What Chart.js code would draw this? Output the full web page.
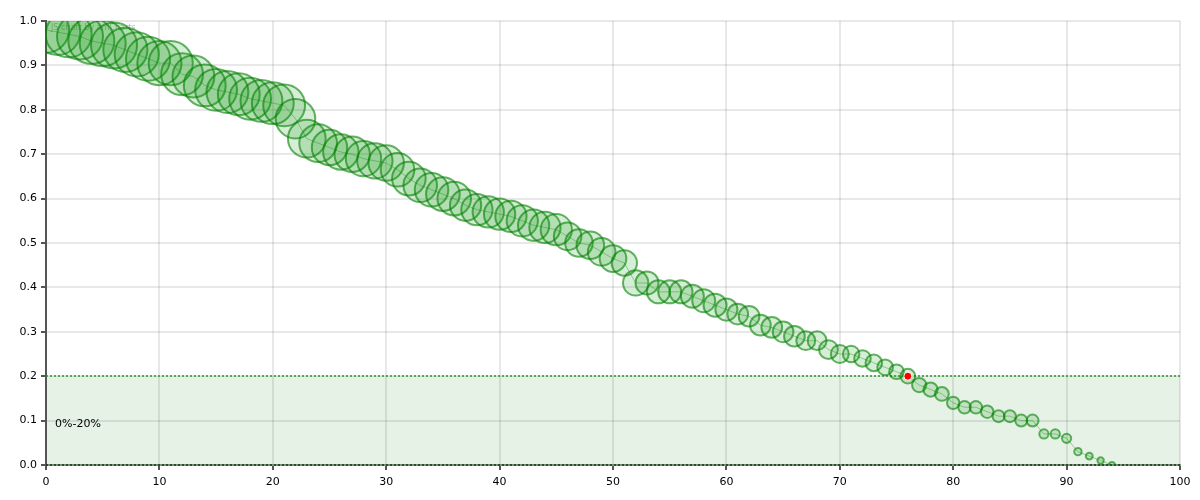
<!DOCTYPE html>
<html>
<head>
<meta charset="utf-8">
<script src="https://cdn.jsdelivr.net/npm/chart.js@4.4.1/dist/chart.umd.min.js"></script>
<style>
  html, body { margin: 0; padding: 0; background: #fff; }
  #wrap { width: 1200px; height: 500px; }
</style>
</head>
<body>
<div id="wrap"><canvas id="bubbleChart" width="1200" height="500"></canvas></div>
<script>
// data
const xValues = [0, 1, 2, 3, 4, 5, 6, 7, 8, 9, 10, 11, 12, 13, 14, 15, 16, 17, 18, 19,
    20, 21, 22, 23, 24, 25, 26, 27, 28, 29, 30, 31, 32, 33, 34, 35, 36, 37, 38, 39,
    40, 41, 42, 43, 44, 45, 46, 47, 48, 49, 50, 51, 52, 53, 54, 55, 56, 57, 58, 59,
    60, 61, 62, 63, 64, 65, 66, 67, 68, 69, 70, 71, 72, 73, 74, 75, 76, 77, 78, 79,
    80, 81, 82, 83, 84, 85, 86, 87, 88, 89, 90, 91, 92, 93, 94];

const yValues = [0.98, 0.975, 0.97, 0.965, 0.955, 0.95, 0.945, 0.935, 0.925, 0.915,
    0.905, 0.905, 0.88, 0.875, 0.855, 0.845, 0.84, 0.835, 0.825, 0.82,
    0.815, 0.81, 0.78, 0.735, 0.725, 0.715, 0.705, 0.70, 0.69, 0.685,
    0.68, 0.665, 0.645, 0.63, 0.62, 0.61, 0.60, 0.585, 0.575, 0.57,
    0.565, 0.56, 0.55, 0.54, 0.535, 0.53, 0.515, 0.50, 0.495, 0.48,
    0.465, 0.455, 0.41, 0.41, 0.39, 0.39, 0.39, 0.38, 0.37, 0.36,
    0.35, 0.34, 0.335, 0.315, 0.31, 0.30, 0.29, 0.28, 0.28, 0.26,
    0.25, 0.25, 0.24, 0.23, 0.22, 0.21, 0.20, 0.18, 0.17, 0.16,
    0.14, 0.13, 0.13, 0.12, 0.11, 0.11, 0.10, 0.10, 0.07, 0.07,
    0.06, 0.03, 0.02, 0.01, 0.00];

// bubble value (relative size)
const bubbleValues = [100, 100, 100, 100, 100, 100, 100, 96, 96, 96,
    96, 96, 91, 91, 91, 91, 91, 91, 91, 91,
    91, 91, 86, 82, 82, 77, 77, 77, 77, 77,
    77, 73, 73, 73, 73, 73, 73, 68, 68, 68,
    68, 68, 68, 68, 68, 68, 60, 60, 60, 60,
    58, 55, 55, 50, 50, 50, 50, 50, 50, 50,
    48, 45, 45, 45, 45, 45, 45, 41, 41, 41,
    39, 36, 36, 36, 34, 32, 32, 31, 31, 30,
    27, 27, 27, 27, 26, 26, 26, 26, 20, 20,
    20, 16, 15, 14, 13];

const highlightX = 76;
const highlightY = 0.20;

const bandFrom = 0;
const bandTo = 0.2;
const bandLabel = '0%-20%';

const xTicksMax = 100;
const yTicksMax = 1.0;

const MAX_RADIUS = 23;
const FONT = '"DejaVu Sans", Verdana, sans-serif';

const bubblePoints = xValues.map((x, i) => ({
    x: x,
    y: yValues[i],
    r: MAX_RADIUS * bubbleValues[i] / 100
}));
const linePoints = xValues.map((x, i) => ({ x: x, y: yValues[i] }));

// band 0-20% behind grid, dotted lines on its edges
const bandPlugin = {
    id: 'bandPlugin',
    beforeDraw(chart) {
        const { ctx, chartArea, scales } = chart;
        const yTop = scales.y.getPixelForValue(bandTo);
        const yBot = scales.y.getPixelForValue(bandFrom);
        ctx.save();
        ctx.fillStyle = 'rgba(0, 128, 0, 0.1)';
        ctx.fillRect(chartArea.left, yTop, chartArea.right - chartArea.left, yBot - yTop);
        ctx.restore();
    },
    beforeDatasetsDraw(chart) {
        const { ctx, chartArea, scales } = chart;
        const yTop = Math.round(scales.y.getPixelForValue(bandTo));
        const yBot = Math.round(scales.y.getPixelForValue(bandFrom));
        ctx.save();
        ctx.lineWidth = 2;
        ctx.setLineDash([2, 2]);
        ctx.strokeStyle = 'rgba(40, 150, 40, 0.75)';
        ctx.beginPath();
        ctx.moveTo(chartArea.left, yTop);
        ctx.lineTo(chartArea.right, yTop);
        ctx.stroke();
        ctx.strokeStyle = 'rgba(20, 60, 20, 0.8)';
        ctx.beginPath();
        ctx.moveTo(chartArea.left, yBot);
        ctx.lineTo(chartArea.right, yBot);
        ctx.stroke();
        ctx.setLineDash([]);
        ctx.fillStyle = '#000';
        ctx.font = '11px ' + FONT;
        ctx.textBaseline = 'middle';
        ctx.fillText(bandLabel, chartArea.left + 9, scales.y.getPixelForValue(0.092));
        ctx.fillStyle = 'rgba(0, 0, 0, 0.3)';
        ctx.font = '8px ' + FONT;
        ctx.fillText('JS chart by amCharts', chartArea.left + 5, chartArea.top + 7);
        ctx.restore();
    }
};

const ctx = document.getElementById('bubbleChart').getContext('2d');
new Chart(ctx, {
    type: 'bubble',
    data: {
        datasets: [{
            type: 'line',
            label: 'trend',
            data: linePoints,
            borderColor: 'rgba(0, 128, 0, 0.35)',
            borderWidth: 1,
            pointRadius: 0,
            fill: false,
            tension: 0,
            clip: 0,
            order: 3
        }, {
            label: 'values',
            data: bubblePoints,
            backgroundColor: 'rgba(0, 140, 0, 0.16)',
            borderColor: 'rgba(0, 128, 0, 0.6)',
            borderWidth: 2,
            clip: 0,
            order: 2
        }, {
            label: 'current',
            data: [{ x: highlightX, y: highlightY, r: 4 }],
            backgroundColor: '#ff0000',
            borderColor: '#ffffff',
            borderWidth: 1,
            clip: 0,
            order: 1
        }]
    },
    options: {
        responsive: false,
        animation: false,
        layout: {
            autoPadding: false,
            padding: { top: 21, right: 20, left: 0, bottom: 0 }
        },
        plugins: {
            legend: { display: false },
            tooltip: { enabled: true }
        },
        scales: {
            x: {
                type: 'linear',
                min: 0,
                max: xTicksMax,
                afterFit(axis) { axis.height = 35; },
                ticks: {
                    stepSize: 10,
                    color: '#000',
                    font: { family: FONT, size: 11 },
                    padding: 6,
                    maxRotation: 0
                },
                grid: {
                    color: 'rgba(0, 0, 0, 0.09)',
                    lineWidth: 2,
                    tickColor: '#555',
                    tickLength: 5
                },
                border: { color: 'rgba(60, 90, 60, 0.6)', width: 2 }
            },
            y: {
                type: 'linear',
                min: 0,
                max: yTicksMax,
                afterFit(axis) { axis.width = 46; },
                ticks: {
                    stepSize: 0.1,
                    color: '#000',
                    font: { family: FONT, size: 11 },
                    padding: 4,
                    callback: v => v.toFixed(1)
                },
                grid: {
                    color: 'rgba(0, 0, 0, 0.09)',
                    lineWidth: 2,
                    tickColor: '#555',
                    tickLength: 5
                },
                border: { color: '#555', width: 2 }
            }
        }
    },
    plugins: [bandPlugin]
});
</script>
</body>
</html>
